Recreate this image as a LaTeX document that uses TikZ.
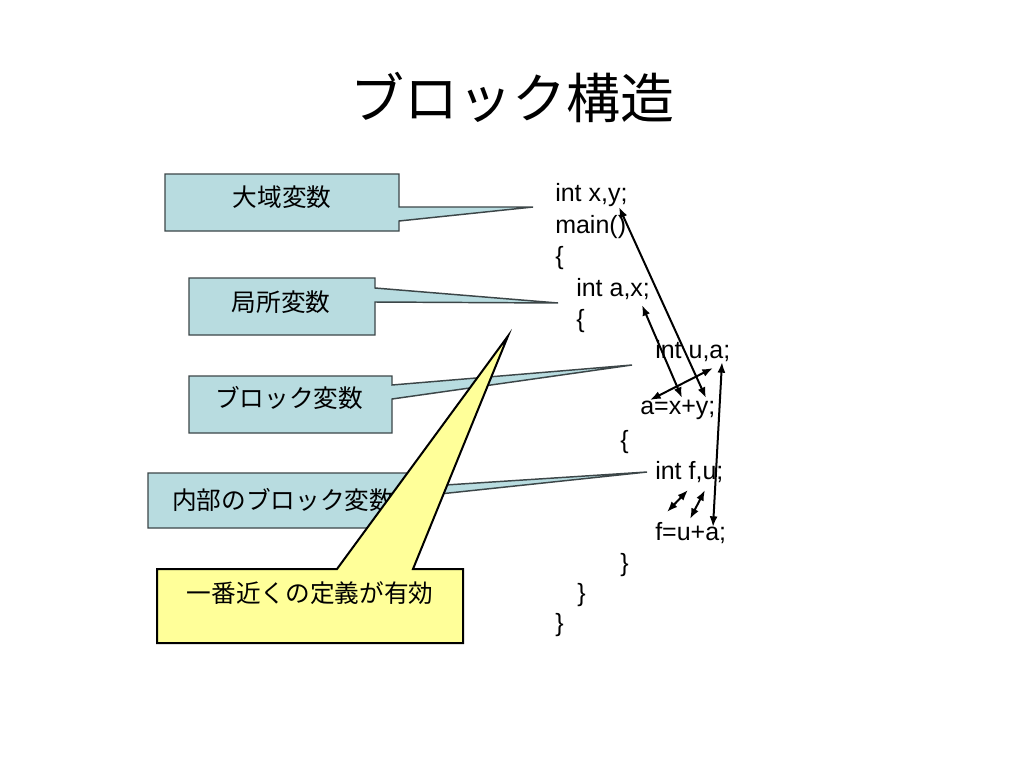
\documentclass[tikz,border=0pt]{standalone}
\usepackage{fontspec}
\setmainfont{Liberation Sans}
\newfontfamily\jpfont{Noto Sans CJK JP}
\usetikzlibrary{arrows.meta}
\definecolor{calloutblue}{HTML}{B8DCE0}
\definecolor{calloutline}{HTML}{3C4648}
\definecolor{noteyellow}{HTML}{FFFF99}
\tikzset{
  bluecallout/.style={fill=calloutblue,draw=calloutline,line width=1.1pt,line join=miter},
  yellowcallout/.style={fill=noteyellow,draw=black,line width=1.5pt,line join=miter},
  jplabel/.style={font=\jpfont\fontsize{18.5pt}{22pt}\selectfont,inner sep=0pt},
  codeline/.style={font=\fontsize{18.75pt}{22pt}\selectfont,anchor=west,inner sep=0pt},
  scopearrow/.style={{Latex[length=8pt,width=6pt]}-{Latex[length=8pt,width=6pt]},line width=1.5pt,black}
}
\begin{document}
\begin{tikzpicture}[x=0.75pt,y=-0.75pt]
\useasboundingbox[fill=white] (0,0) rectangle (1024,768);

% title
\node[font=\jpfont\fontsize{40.5pt}{46pt}\selectfont,inner sep=0pt] (title) at (512,97) {ブロック構造};

% blue callouts
\draw[bluecallout] (165,174) -- (399,174) -- (399,207) -- (533,207) -- (399,221) -- (399,231) -- (165,231) -- cycle;
\draw[bluecallout] (189,278) -- (375,278) -- (375,288) -- (558,303) -- (375,302) -- (375,335) -- (189,335) -- cycle;
\draw[bluecallout] (189,376) -- (392,376) -- (392,385) -- (632,365) -- (392,399) -- (392,433) -- (189,433) -- cycle;
\draw[bluecallout] (148,473) -- (430,473) -- (430,486) -- (647,472) -- (430,495) -- (430,528) -- (148,528) -- cycle;

\node[jplabel] (global) at (282,197) {大域変数};
\node[jplabel] (local) at (281,302) {局所変数};
\node[jplabel] (block) at (289,398) {ブロック変数};
\node[jplabel] (inner) at (283,500) {内部のブロック変数};

% yellow callout
\draw[yellowcallout] (157,569) -- (337,569) -- (508,336) -- (413,569) -- (463,569) -- (463,643) -- (157,643) -- cycle;
\node[jplabel] (note) at (310,593) {一番近くの定義が有効};

% code
\node[codeline] (l1) at (555,195) {int x,y;};
\node[codeline] (l2) at (555,227) {main()};
\node[codeline] (l3) at (555,258) {\{};
\node[codeline] (l4) at (576,289) {int a,x;};
\node[codeline] (l5) at (576,321) {\{};
\node[codeline] (l6) at (655,351) {int u,a;};
\node[codeline] (l7) at (640,410) {a=x+y;};
\node[codeline] (l8) at (620,442) {\{};
\node[codeline] (l9) at (655,472) {int f,u;};
\node[codeline] (l10) at (655,533) {f=u+a;};
\node[codeline] (l11) at (620,565) {\}};
\node[codeline] (l12) at (577,595) {\}};
\node[codeline] (l13) at (555,625) {\}};

% arrow end points
\coordinate (xydef) at (619,207);
\coordinate (xyuse) at (706,398);
\coordinate (axdef) at (642,305);
\coordinate (axuse) at (682,398);
\coordinate (auuse) at (650,400);
\coordinate (audef) at (713,368);
\coordinate (adef) at (722,362);
\coordinate (ause) at (713,527);
\coordinate (fuse) at (667,512);
\coordinate (fdef) at (688,490);
\coordinate (uuse) at (690,519);
\coordinate (udef) at (705,490);

\draw[scopearrow] (xydef) -- (xyuse);
\draw[scopearrow] (axdef) -- (axuse);
\draw[scopearrow] (auuse) -- (audef);
\draw[scopearrow] (adef) -- (ause);
\draw[scopearrow] (fuse) -- (fdef);
\draw[scopearrow] (uuse) -- (udef);
\end{tikzpicture}
\end{document}
